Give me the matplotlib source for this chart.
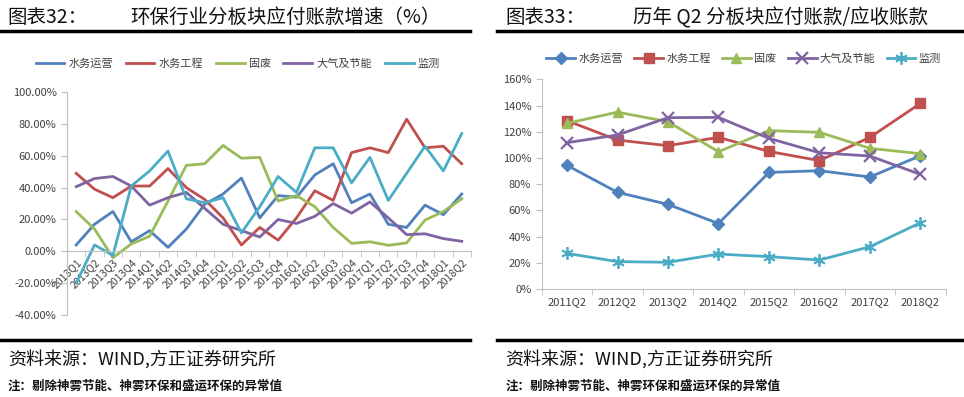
import matplotlib.pyplot as plt
from matplotlib.lines import Line2D

plt.rcParams['font.family'] = ['Noto Sans CJK SC', 'DejaVu Sans']

# ---- left chart: quarterly growth of accounts payable (%)
quarters = ['2013Q1', '2013Q2', '2013Q3', '2013Q4', '2014Q1', '2014Q2', '2014Q3', '2014Q4',
            '2015Q1', '2015Q2', '2015Q3', '2015Q4', '2016Q1', '2016Q2', '2016Q3', '2016Q4',
            '2017Q1', '2017Q2', '2017Q3', '2017Q4', '2018Q1', '2018Q2']
water_ops = [4, 17, 25, 6, 13, 2.5, 14, 29.5, 36, 46, 21, 35, 34, 48, 55, 30.5, 36, 17, 15, 29, 23, 36]
water_eng = [49, 39, 33.7, 41, 41, 52, 40, 32.6, 21, 4, 15, 7, 21, 38, 32, 62, 65, 62, 83, 65, 66, 55]
solid_waste = [25, 14, -4, 4.6, 9.5, 31.6, 54, 55, 66.5, 58.5, 59, 31.6, 35, 28, 15, 5, 6, 3.8, 5.3, 19.6, 25, 33]
air_energy = [40.6, 45.7, 47, 41, 29, 33.7, 37, 27, 17, 13, 9, 20, 17.5, 22, 30, 24, 31, 21, 10.5, 11, 8, 6.3]
monitoring = [-20, 4, -2.5, 41, 50.5, 63, 33, 30.5, 33.7, 11.6, 28, 47, 37, 65, 65, 43, 59, 32, 49, 66, 50.5, 74]

# ---- right chart: Q2 payable / receivable ratio (%)
years = ['2011Q2', '2012Q2', '2013Q2', '2014Q2', '2015Q2', '2016Q2', '2017Q2', '2018Q2']
ratio_water_ops = [94.4, 73.8, 64.6, 50, 89, 90.3, 85.5, 101.8]
ratio_water_eng = [128.5, 113.7, 109.4, 115.8, 105, 98, 115.8, 141.7]
ratio_solid_waste = [126.5, 135, 127.7, 104.8, 120.9, 119.6, 107.4, 103.3]
ratio_air_energy = [111.7, 117.6, 130.8, 131, 115, 104, 101.5, 87.5]
ratio_monitoring = [27.2, 20.9, 20.4, 26.7, 24.7, 22.1, 32.3, 50.6]

names = ['水务运营', '水务工程', '固废', '大气及节能', '监测']
colors = ['#4F81BD', '#C0504D', '#9BBB59', '#8064A2', '#4BACC6']
axis_grey = '#BFBFBF'
text_grey = '#404040'

fig = plt.figure(figsize=(9.64, 3.97), dpi=100)

# headers and footers
for x0, x1, tag, title, tx in [(0.0, 0.488, '图表32：', '环保行业分板块应付账款增速（%）', 0.135),
                               (0.516, 1.0, '图表33：', '历年 Q2 分板块应付账款/应收账款', 0.657)]:
    fig.text(x0 + 0.008, 0.956, tag, fontsize=14, va='center', color='#111111')
    fig.text(tx, 0.956, title, fontsize=14, va='center', color='#111111')
    fig.add_artist(Line2D([x0, x1], [0.923, 0.923], color='black', lw=2.5))
    fig.add_artist(Line2D([x0, x1], [0.143, 0.143], color='black', lw=2.5))
    fig.text(x0 + 0.008, 0.096, '资料来源：WIND,方正证券研究所', fontsize=13, va='center',
             style='italic', color='#111111')
    fig.text(x0 + 0.008, 0.028, '注：剔除神雾节能、神雾环保和盛运环保的异常值', fontsize=9,
             va='center', weight='bold', color='#111111')

# ---- left axes
ax1 = fig.add_axes([0.0695, 0.2065, 0.419, 0.5615])
xs = range(len(quarters))
for vals, name, c in zip([water_ops, water_eng, solid_waste, air_energy, monitoring], names, colors):
    ax1.plot(xs, vals, color=c, lw=2.0, label=name)
ax1.set_xlim(-0.5, len(quarters) - 0.5)
ax1.set_ylim(-40, 100)
ax1.set_yticks(range(-40, 101, 20))
ax1.set_yticklabels([f'{v:.2f}%' for v in range(-40, 101, 20)])
ax1.spines['bottom'].set_position(('data', 0))
for s in ['top', 'right']:
    ax1.spines[s].set_visible(False)
for s in ['left', 'bottom']:
    ax1.spines[s].set_color(axis_grey)
ax1.set_xticks(list(xs))
ax1.set_xticklabels(quarters, rotation=45, ha='right', va='top', rotation_mode='anchor')
ax1.set_xticks([i - 0.5 for i in range(len(quarters) + 1)], minor=True)
ax1.tick_params(axis='x', which='major', length=0, labelsize=7.5, labelcolor=text_grey, pad=4)
ax1.tick_params(axis='x', which='minor', length=4, color=axis_grey)
ax1.tick_params(axis='y', length=4, color=axis_grey, labelsize=8, labelcolor=text_grey)
ax1.legend(ncol=5, loc='center', bbox_to_anchor=(0.423, 1.128), frameon=False, fontsize=8,
           handlelength=2.6, handletextpad=0.4, columnspacing=1.1, labelcolor=text_grey)

# ---- right axes
ax2 = fig.add_axes([0.562, 0.272, 0.419, 0.528])
xr = range(len(years))
styles = [dict(marker='D', ms=6), dict(marker='s', ms=7.5), dict(marker='^', ms=7.5),
          dict(marker='x', ms=8, mew=1.6), dict(marker=(6, 2, 0), ms=9, mew=1.3)]
for vals, name, c, st in zip([ratio_water_ops, ratio_water_eng, ratio_solid_waste,
                              ratio_air_energy, ratio_monitoring], names, colors, styles):
    ax2.plot(xr, vals, color=c, lw=2.0, label=name, **st)
ax2.set_xlim(-0.5, len(years) - 0.5)
ax2.set_ylim(0, 160)
ax2.set_yticks(range(0, 161, 20))
ax2.set_yticklabels([f'{v}%' for v in range(0, 161, 20)])
for s in ['top', 'right']:
    ax2.spines[s].set_visible(False)
for s in ['left', 'bottom']:
    ax2.spines[s].set_color(axis_grey)
ax2.set_xticks(list(xr))
ax2.set_xticklabels(years)
ax2.set_xticks([i - 0.5 for i in range(len(years) + 1)], minor=True)
ax2.tick_params(axis='x', which='major', length=0, labelsize=8, labelcolor=text_grey, pad=6)
ax2.tick_params(axis='x', which='minor', length=4, color=axis_grey)
ax2.tick_params(axis='y', length=4, color=axis_grey, labelsize=8, labelcolor=text_grey)
ax2.legend(ncol=5, loc='center', bbox_to_anchor=(0.5, 1.097), frameon=False, fontsize=8,
           handlelength=2.6, handletextpad=0.3, columnspacing=1.0, labelcolor=text_grey)

fig.savefig('out.png', dpi=100)
